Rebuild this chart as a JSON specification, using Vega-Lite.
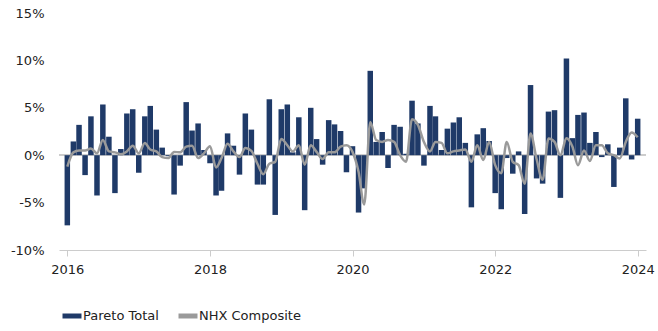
{
  "$schema": "https://vega.github.io/schema/vega-lite/v6.json",
  "width": 587,
  "height": 237,
  "autosize": {"type": "none"},
  "padding": {"left": 59, "top": 13, "right": 12, "bottom": 81},
  "background": "#ffffff",
  "config": {
    "font": "DejaVu Sans",
    "view": {"stroke": null},
    "axis": {"labelFont": "DejaVu Sans", "labelFontSize": 13, "labelColor": "#222222", "title": null},
    "legend": {"labelFont": "DejaVu Sans", "labelFontSize": 13, "labelColor": "#222222"}
  },
  "data": {
    "values": [
      {"date": "2016-01-01", "pareto": -7.4, "nhx": -1.2},
      {"date": "2016-02-01", "pareto": 1.45, "nhx": 0.3},
      {"date": "2016-03-01", "pareto": 3.2, "nhx": 0.5},
      {"date": "2016-04-01", "pareto": -2.1, "nhx": 0.5},
      {"date": "2016-05-01", "pareto": 4.1, "nhx": 0.7},
      {"date": "2016-06-01", "pareto": -4.25, "nhx": 0.2},
      {"date": "2016-07-01", "pareto": 5.35, "nhx": 1.6},
      {"date": "2016-08-01", "pareto": 1.95, "nhx": 0.4},
      {"date": "2016-09-01", "pareto": -4.0, "nhx": 0.3},
      {"date": "2016-10-01", "pareto": 0.65, "nhx": 0.1},
      {"date": "2016-11-01", "pareto": 4.4, "nhx": 0.4},
      {"date": "2016-12-01", "pareto": 4.85, "nhx": 1.0},
      {"date": "2017-01-01", "pareto": -1.85, "nhx": 0.2},
      {"date": "2017-02-01", "pareto": 4.1, "nhx": 1.3},
      {"date": "2017-03-01", "pareto": 5.2, "nhx": 0.6},
      {"date": "2017-04-01", "pareto": 2.7, "nhx": 0.4},
      {"date": "2017-05-01", "pareto": 0.8, "nhx": -0.2},
      {"date": "2017-06-01", "pareto": -0.1, "nhx": -0.3},
      {"date": "2017-07-01", "pareto": -4.15, "nhx": 0.35},
      {"date": "2017-08-01", "pareto": -1.1, "nhx": 0.3},
      {"date": "2017-09-01", "pareto": 5.6, "nhx": 0.9},
      {"date": "2017-10-01", "pareto": 2.6, "nhx": 1.0},
      {"date": "2017-11-01", "pareto": 3.35, "nhx": -0.3},
      {"date": "2017-12-01", "pareto": 0.55, "nhx": 0.2},
      {"date": "2018-01-01", "pareto": -0.85, "nhx": 0.95},
      {"date": "2018-02-01", "pareto": -4.25, "nhx": -1.3},
      {"date": "2018-03-01", "pareto": -3.75, "nhx": -0.3},
      {"date": "2018-04-01", "pareto": 2.3, "nhx": 1.2},
      {"date": "2018-05-01", "pareto": 1.0, "nhx": 0.4},
      {"date": "2018-06-01", "pareto": -2.05, "nhx": -0.2},
      {"date": "2018-07-01", "pareto": 4.4, "nhx": 0.75},
      {"date": "2018-08-01", "pareto": 2.7, "nhx": 0.45},
      {"date": "2018-09-01", "pareto": -3.1, "nhx": -0.9},
      {"date": "2018-10-01", "pareto": -3.1, "nhx": -2.0},
      {"date": "2018-11-01", "pareto": 5.9, "nhx": -0.9},
      {"date": "2018-12-01", "pareto": -6.3, "nhx": -0.7},
      {"date": "2019-01-01", "pareto": 4.85, "nhx": 1.7},
      {"date": "2019-02-01", "pareto": 5.35, "nhx": 1.05},
      {"date": "2019-03-01", "pareto": 0.3, "nhx": 0.4},
      {"date": "2019-04-01", "pareto": 4.0, "nhx": 1.05},
      {"date": "2019-05-01", "pareto": -5.8, "nhx": -1.0},
      {"date": "2019-06-01", "pareto": 5.0, "nhx": 1.05},
      {"date": "2019-07-01", "pareto": 1.7, "nhx": 0.35},
      {"date": "2019-08-01", "pareto": -1.0, "nhx": -0.4},
      {"date": "2019-09-01", "pareto": 3.7, "nhx": 0.3},
      {"date": "2019-10-01", "pareto": 3.25, "nhx": 0.3},
      {"date": "2019-11-01", "pareto": 2.55, "nhx": 0.9},
      {"date": "2019-12-01", "pareto": -1.8, "nhx": 1.05},
      {"date": "2020-01-01", "pareto": 0.95, "nhx": 0.35},
      {"date": "2020-02-01", "pareto": -6.05, "nhx": -1.75},
      {"date": "2020-03-01", "pareto": -3.5, "nhx": -5.2},
      {"date": "2020-04-01", "pareto": 8.9, "nhx": 3.5},
      {"date": "2020-05-01", "pareto": 1.4, "nhx": 1.6},
      {"date": "2020-06-01", "pareto": 2.45, "nhx": 1.4},
      {"date": "2020-07-01", "pareto": -1.35, "nhx": 1.6},
      {"date": "2020-08-01", "pareto": 3.2, "nhx": 1.4},
      {"date": "2020-09-01", "pareto": 3.0, "nhx": 0.0},
      {"date": "2020-10-01", "pareto": 0.15, "nhx": -0.7},
      {"date": "2020-11-01", "pareto": 5.75, "nhx": 3.8},
      {"date": "2020-12-01", "pareto": 3.35, "nhx": 3.2},
      {"date": "2021-01-01", "pareto": -1.1, "nhx": 1.4},
      {"date": "2021-02-01", "pareto": 5.2, "nhx": 0.4},
      {"date": "2021-03-01", "pareto": 4.1, "nhx": 1.4},
      {"date": "2021-04-01", "pareto": 0.55, "nhx": 1.3},
      {"date": "2021-05-01", "pareto": 2.8, "nhx": 0.2},
      {"date": "2021-06-01", "pareto": 3.45, "nhx": 0.4},
      {"date": "2021-07-01", "pareto": 4.0, "nhx": 0.5},
      {"date": "2021-08-01", "pareto": 1.3, "nhx": 0.6},
      {"date": "2021-09-01", "pareto": -5.5, "nhx": -0.7},
      {"date": "2021-10-01", "pareto": 2.2, "nhx": 1.05},
      {"date": "2021-11-01", "pareto": 2.85, "nhx": -0.5},
      {"date": "2021-12-01", "pareto": 1.5, "nhx": 1.4},
      {"date": "2022-01-01", "pareto": -4.0, "nhx": -1.05},
      {"date": "2022-02-01", "pareto": -5.7, "nhx": -1.9},
      {"date": "2022-03-01", "pareto": -0.3, "nhx": 1.4},
      {"date": "2022-04-01", "pareto": -1.95, "nhx": -0.7},
      {"date": "2022-05-01", "pareto": 0.4, "nhx": -1.05},
      {"date": "2022-06-01", "pareto": -6.2, "nhx": -3.0},
      {"date": "2022-07-01", "pareto": 7.4, "nhx": 2.3},
      {"date": "2022-08-01", "pareto": -2.45, "nhx": -0.4},
      {"date": "2022-09-01", "pareto": -3.0, "nhx": -2.6},
      {"date": "2022-10-01", "pareto": 4.6, "nhx": 1.75},
      {"date": "2022-11-01", "pareto": 4.75, "nhx": 1.4},
      {"date": "2022-12-01", "pareto": -4.5, "nhx": 0.0},
      {"date": "2023-01-01", "pareto": 10.2, "nhx": 1.8},
      {"date": "2023-02-01", "pareto": 1.8, "nhx": 0.9},
      {"date": "2023-03-01", "pareto": 4.25, "nhx": -1.05},
      {"date": "2023-04-01", "pareto": 4.5, "nhx": 0.5},
      {"date": "2023-05-01", "pareto": 1.3, "nhx": -0.6},
      {"date": "2023-06-01", "pareto": 2.45, "nhx": 1.05},
      {"date": "2023-07-01", "pareto": -0.2, "nhx": 1.05},
      {"date": "2023-08-01", "pareto": 1.15, "nhx": 0.2},
      {"date": "2023-09-01", "pareto": -3.35, "nhx": 0.0},
      {"date": "2023-10-01", "pareto": 0.8, "nhx": -0.35},
      {"date": "2023-11-01", "pareto": 6.0, "nhx": 1.4},
      {"date": "2023-12-01", "pareto": -0.45, "nhx": 2.4},
      {"date": "2024-01-01", "pareto": 3.85, "nhx": 1.9}
    ]
  },
  "encoding": {
    "x": {
      "field": "date",
      "type": "temporal",
      "scale": {
        "type": "utc",
        "domain": [
          {"year": 2015, "month": 12, "date": 15, "utc": true},
          {"year": 2024, "month": 1, "date": 18, "utc": true}
        ]
      },
      "axis": {
        "values": [
          {"year": 2016, "utc": true},
          {"year": 2018, "utc": true},
          {"year": 2020, "utc": true},
          {"year": 2022, "utc": true},
          {"year": 2024, "utc": true}
        ],
        "format": "%Y",
        "formatType": "utc",
        "grid": false,
        "domainColor": "#cccccc",
        "tickColor": "#cccccc",
        "tickSize": 6,
        "labelPadding": 7,
        "labelFlush": false
      }
    }
  },
  "layer": [
    {
      "mark": {"type": "rule", "color": "#cccccc", "strokeWidth": 1},
      "encoding": {"y": {"datum": 0, "type": "quantitative"}, "x": null}
    },
    {
      "mark": {"type": "bar", "size": 5.5},
      "encoding": {
        "y": {
          "field": "pareto",
          "type": "quantitative",
          "scale": {"domain": [-10, 15], "nice": false},
          "axis": {
            "values": [-10, -5, 0, 5, 10, 15],
            "labelExpr": "datum.value + '%'",
            "domain": false,
            "ticks": false,
            "labelPadding": 15,
            "gridColor": "#efefef"
          }
        },
        "color": {
          "datum": "Pareto Total",
          "type": "nominal",
          "scale": {"domain": ["Pareto Total", "NHX Composite"], "range": ["#1f3a68", "#9a9a9a"]},
          "legend": {
            "title": null,
            "orient": "none",
            "direction": "horizontal",
            "legendX": 1,
            "legendY": 291,
            "symbolType": "stroke",
            "symbolStrokeWidth": 5,
            "symbolSize": 361,
            "labelOffset": -1,
            "columnPadding": 9
          }
        }
      }
    },
    {
      "mark": {"type": "line", "strokeWidth": 2.5, "interpolate": "monotone"},
      "encoding": {
        "y": {"field": "nhx", "type": "quantitative"},
        "color": {"datum": "NHX Composite", "type": "nominal"}
      }
    }
  ]
}
